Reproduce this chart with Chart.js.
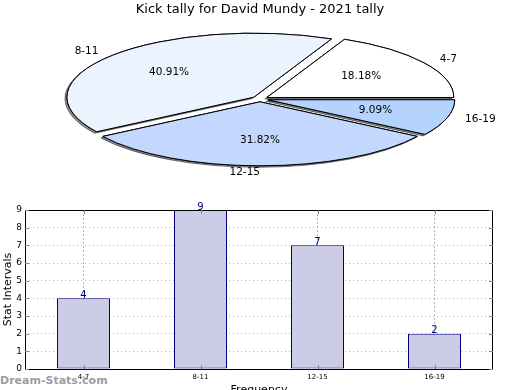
<!DOCTYPE html>
<html>
<head>
<meta charset="utf-8">
<script src="https://cdn.jsdelivr.net/npm/chart.js@4/dist/chart.umd.min.js"></script>
<style>
  html, body { margin: 0; padding: 0; background: #fff; }
  #wrap { position: relative; width: 520px; height: 390px; overflow: hidden; }
  #pie { position: absolute; left: 0; top: 0; }
  #bar { position: absolute; left: 0; top: 195px; z-index: 2; }
  #wm { position: absolute; left: 0; top: 374px; z-index: 1; font: bold 11px "DejaVu Sans", sans-serif; color: rgba(130,130,130,0.8); }
</style>
</head>
<body>
<div id="wrap">
  <canvas id="pie" width="520" height="195"></canvas>
  <div id="wm">Dream-Stats.com</div>
  <canvas id="bar" width="520" height="195"></canvas>
</div>
<script>
const categories = ["4-7", "8-11", "12-15", "16-19"];
const values = [4, 9, 7, 2];
const pieColors = ["#ffffff", "#ebf3ff", "#c4d8ff", "#b4d4ff"];
const yTicks = [0, 1, 2, 3, 4, 5, 6, 7, 8, 9];
const chartTitle = "Kick tally for David Mundy - 2021 tally";
const yTitle = "Stat Intervals";
const xTitle = "Frequency";

const FONT = "'DejaVu Sans', sans-serif";
const K = 2.92;          // horizontal stretch of the pie
const EXPLODE = 2.8;     // explode distance (circle space)
const total = values.reduce((a, b) => a + b, 0);

// pie drawn clockwise from 3 o'clock, so reverse order to mimic counter-clockwise
const pieLabels = categories.slice().reverse();
const pieValues = values.slice().reverse();
const pieCols = pieColors.slice().reverse();

const ellipsePlugin = {
  id: 'ellipse',
  beforeDatasetsDraw(chart) {
    const ctx = chart.ctx;
    const meta = chart.getDatasetMeta(0);
    const cx = meta.data[0].x;
    const dpr = chart.currentDevicePixelRatio || 1;
    const orig = CanvasRenderingContext2D.prototype.stroke;
    ctx.save();
    ctx.translate(cx, 0); ctx.scale(K, 1); ctx.translate(-cx, 0);
    ctx.stroke = function () {
      this.save(); this.setTransform(dpr, 0, 0, dpr, 0, 0); orig.apply(this, arguments); this.restore();
    };
    const drawArcs = () => meta.data.forEach(a => {
      const mid = (a.startAngle + a.endAngle) / 2;
      ctx.save();
      ctx.translate(Math.cos(mid) * EXPLODE, Math.sin(mid) * EXPLODE);
      a.draw(ctx);
      ctx.restore();
    });
    // shadow pass
    ctx.save();
    ctx.shadowColor = 'rgba(0,0,0,0.45)';
    ctx.shadowOffsetX = -2; ctx.shadowOffsetY = 1.5; ctx.shadowBlur = 0;
    drawArcs();
    ctx.restore();
    drawArcs();
    delete ctx.stroke;
    ctx.restore();

    ctx.save();
    ctx.fillStyle = '#000';
    ctx.font = "10.5px " + FONT;
    ctx.textBaseline = 'middle';
    meta.data.forEach((a, i) => {
      const mid = (a.startAngle + a.endAngle) / 2;
      const c = Math.cos(mid), s = Math.sin(mid);
      const ox = c * EXPLODE * K, oy = s * EXPLODE;
      const R = a.outerRadius;
      const pct = (pieValues[i] / total * 100).toFixed(2) + '%';
      ctx.textAlign = 'center';
      ctx.fillText(pct, a.x + ox + c * 0.6 * R * K, a.y + oy + s * 0.6 * R);
      ctx.textAlign = c <= 1e-6 ? 'right' : 'left';
      ctx.fillText(pieLabels[i], a.x + ox + c * 1.1 * R * K, a.y + oy + s * 1.1 * R);
    });
    ctx.restore();
    return false;
  }
};

new Chart(document.getElementById('pie'), {
  type: 'pie',
  data: {
    labels: pieLabels,
    datasets: [{
      data: pieValues,
      backgroundColor: pieCols,
      borderColor: '#000',
      borderWidth: 1
    }]
  },
  options: {
    responsive: false,
    animation: false,
    rotation: 90,
    radius: 64,
    layout: { padding: { left: 0, right: 0, top: 0, bottom: 18.6 } },
    events: [],
    plugins: {
      legend: { display: false },
      tooltip: { enabled: false },
      title: { display: true, text: chartTitle, color: '#000', font: { family: FONT, size: 13, weight: 'normal' }, padding: { top: 2, bottom: 4 } }
    }
  },
  plugins: [ellipsePlugin]
});

const framePlugin = {
  id: 'frame',
  afterDraw(chart) {
    const ctx = chart.ctx;
    const a = chart.chartArea;
    const xs = chart.scales.x, ys = chart.scales.y;
    ctx.save();
    ctx.strokeStyle = '#000';
    ctx.lineWidth = 1;
    ctx.strokeRect(Math.round(a.left) + 0.5, Math.round(a.top) + 0.5, Math.round(a.right - a.left) - 1, Math.round(a.bottom - a.top));
    ctx.strokeStyle = '#888';
    ctx.beginPath();
    yTicks.forEach(v => {
      const y = Math.round(ys.getPixelForValue(v)) + 0.5;
      ctx.moveTo(a.left, y); ctx.lineTo(a.left + 4, y);
      ctx.moveTo(a.right - 4, y); ctx.lineTo(a.right, y);
    });
    categories.forEach((c, i) => {
      const x = Math.round(xs.getPixelForValue(i)) + 0.5;
      ctx.moveTo(x, a.bottom); ctx.lineTo(x, a.bottom - 4);
      ctx.moveTo(x, a.top); ctx.lineTo(x, a.top + 4);
    });
    ctx.stroke();
    // value labels
    const meta = chart.getDatasetMeta(0);
    ctx.fillStyle = '#000080';
    ctx.font = "10px " + FONT;
    ctx.textAlign = 'center';
    ctx.textBaseline = 'bottom';
    meta.data.forEach((b, i) => {
      ctx.fillText(String(values[i]), b.x, b.y + 2);
    });
    ctx.restore();
  }
};

new Chart(document.getElementById('bar'), {
  type: 'bar',
  data: {
    labels: categories,
    datasets: [{
      data: values,
      backgroundColor: '#ccccE6',
      borderColor: '#000080',
      borderWidth: 1,
      borderSkipped: false,
      barPercentage: 0.453,
      categoryPercentage: 1
    }]
  },
  options: {
    responsive: false,
    animation: false,
    events: [],
    layout: { padding: { left: 0, right: 27, top: 15, bottom: 0 } },
    plugins: { legend: { display: false }, tooltip: { enabled: false } },
    scales: {
      x: {
        afterFit(s) { s.height = 21; },
        grid: { offset: false, color: '#b4b4b4', drawTicks: false, lineWidth: 1 },
        border: { display: false, dash: [2, 2] },
        ticks: { color: '#000', font: { family: FONT, size: 7 }, padding: 4, autoSkip: false, maxRotation: 0 },
        title: { display: true, text: xTitle, color: '#000', font: { family: FONT, size: 11 }, padding: { top: 0, bottom: -7 } }
      },
      y: {
        min: 0, max: 9,
        afterFit(s) { s.width = 25; },
        afterBuildTicks(s) { s.ticks = yTicks.map(v => ({ value: v })); },
        grid: { color: '#b4b4b4', drawTicks: false, lineWidth: 1 },
        border: { display: false, dash: [1, 3] },
        ticks: { color: '#000', font: { family: FONT, size: 9 }, padding: 3 },
        title: { display: true, text: yTitle, color: '#000', font: { family: FONT, size: 11 }, padding: { top: 2, bottom: 0 } }
      }
    }
  },
  plugins: [framePlugin]
});
</script>
</body>
</html>
